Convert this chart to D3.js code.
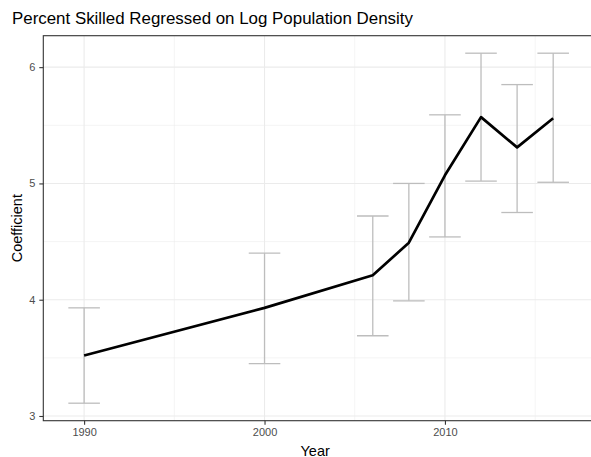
<!DOCTYPE html>
<html><head><meta charset="utf-8">
<script src="https://cdn.jsdelivr.net/npm/d3@7"></script>
<style>body{margin:0;background:#fff}svg{display:block}</style>
</head><body>
<svg id="c" width="591" height="457"></svg>
<script>
const years = [1990, 2000, 2006, 2008, 2010, 2012, 2014, 2016];
const coef  = [3.52, 3.93, 4.21, 4.49, 5.07, 5.57, 5.31, 5.56];
const lower = [3.11, 3.45, 3.69, 3.99, 4.54, 5.02, 4.75, 5.01];
const upper = [3.93, 4.40, 4.72, 5.00, 5.59, 6.12, 5.85, 6.12];
const xTicks = [1990, 2000, 2010];
const xMinor = [1995, 2005, 2015];
const yTicks = [3, 4, 5, 6];
const yMinor = [3.5, 4.5, 5.5];
const title = "Percent Skilled Regressed on Log Population Density";
const xTitle = "Year", yTitle = "Coefficient";

const capHalf = 0.875;
const svg = d3.select("#c");
const L = 43.3, R = 594, T = 35.7, B = 420.7;
const xr0 = d3.min(years) - capHalf, xr1 = d3.max(years) + capHalf;
const xp = (xr1 - xr0) * 0.05;
const x = d3.scaleLinear().domain([xr0 - xp, xr1 + xp]).range([L, R]);
const ylo = d3.min(lower), yhi = d3.max(upper), yp = (yhi - ylo) * 0.05;
const y = d3.scaleLinear().domain([ylo - yp, yhi + yp]).range([B, T]);

const g = svg.append("g");
// grid
g.selectAll(".ymin").data(yMinor).join("line").attr("x1", L).attr("x2", R)
  .attr("y1", d => y(d)).attr("y2", d => y(d)).attr("stroke", "#ebebeb").attr("stroke-width", 0.55);
g.selectAll(".xmin").data(xMinor).join("line").attr("y1", T).attr("y2", B)
  .attr("x1", d => x(d)).attr("x2", d => x(d)).attr("stroke", "#ebebeb").attr("stroke-width", 0.55);
g.selectAll(".ymaj").data(yTicks).join("line").attr("x1", L).attr("x2", R)
  .attr("y1", d => y(d)).attr("y2", d => y(d)).attr("stroke", "#ebebeb").attr("stroke-width", 1.1);
g.selectAll(".xmaj").data(xTicks).join("line").attr("y1", T).attr("y2", B)
  .attr("x1", d => x(d)).attr("x2", d => x(d)).attr("stroke", "#ebebeb").attr("stroke-width", 1.1);

// error bars
const eb = g.append("g").attr("stroke", "#bdbdbd").attr("stroke-width", 1.3).attr("fill", "none");
years.forEach((yr, i) => {
  eb.append("line").attr("x1", x(yr)).attr("x2", x(yr)).attr("y1", y(lower[i])).attr("y2", y(upper[i]));
  eb.append("line").attr("x1", x(yr - capHalf)).attr("x2", x(yr + capHalf)).attr("y1", y(lower[i])).attr("y2", y(lower[i]));
  eb.append("line").attr("x1", x(yr - capHalf)).attr("x2", x(yr + capHalf)).attr("y1", y(upper[i])).attr("y2", y(upper[i]));
});

// line
const line = d3.line().x((d, i) => x(years[i])).y(d => y(d));
g.append("path").datum(coef).attr("d", line).attr("fill", "none")
  .attr("stroke", "#000").attr("stroke-width", 2.7).attr("stroke-linejoin", "round");

// border
g.append("rect").attr("x", L).attr("y", T).attr("width", R - L).attr("height", B - T)
  .attr("fill", "none").attr("stroke", "#333").attr("stroke-width", 1.1);

// axes
const xa = svg.append("g").attr("transform", `translate(0,${B})`)
  .call(d3.axisBottom(x).tickValues(xTicks).tickSize(4).tickPadding(4).tickFormat(d3.format("d")));
const ya = svg.append("g").attr("transform", `translate(${L},0)`)
  .call(d3.axisLeft(y).tickValues(yTicks).tickSize(4).tickPadding(4).tickFormat(d3.format("d")));
[xa, ya].forEach(a => {
  a.select(".domain").remove();
  a.selectAll(".tick line").attr("stroke", "#333").attr("stroke-width", 1.1);
  a.selectAll(".tick text").attr("fill", "#4d4d4d").style("font-family", "Liberation Sans, Arial, sans-serif").style("font-size", "11px");
});

svg.append("text").attr("x", 12).attr("y", 24).text(title)
  .style("font-family", "Liberation Sans, Arial, sans-serif").style("font-size", "16.9px").attr("fill", "#000");
svg.append("text").attr("x", (L + 591) / 2 - 2).attr("y", 455.5).attr("text-anchor", "middle").text(xTitle)
  .style("font-family", "Liberation Sans, Arial, sans-serif").style("font-size", "14.5px").attr("fill", "#000");
svg.append("text").attr("transform", `translate(22,${(T + B) / 2}) rotate(-90)`).attr("text-anchor", "middle").text(yTitle)
  .style("font-family", "Liberation Sans, Arial, sans-serif").style("font-size", "14.5px").attr("fill", "#000");
</script>
</body></html>
